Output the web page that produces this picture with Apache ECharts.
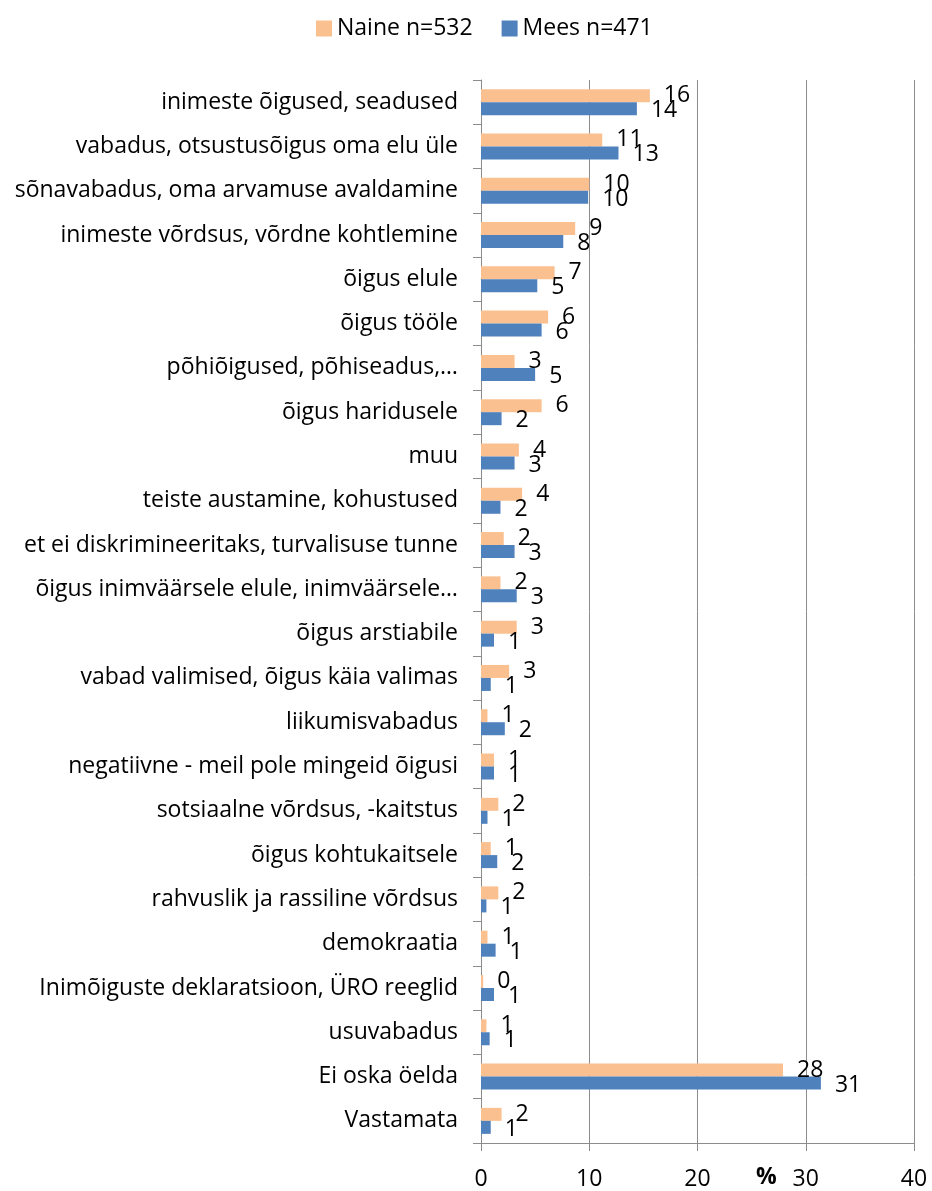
<!DOCTYPE html>
<html>
<head>
<meta charset="utf-8">
<script src="https://cdn.jsdelivr.net/npm/echarts@6/dist/echarts.min.js"></script>
<style>
  html, body { margin: 0; padding: 0; background: #fff; }
  #chart { width: 932px; height: 1191px; }
</style>
</head>
<body>
<div id="chart"></div>
<script>
// categories, top to bottom
const categories = [
  'inimeste õigused, seadused',
  'vabadus, otsustusõigus oma elu üle',
  'sõnavabadus, oma arvamuse avaldamine',
  'inimeste võrdsus, võrdne kohtlemine',
  'õigus elule',
  'õigus tööle',
  'põhiõigused, põhiseadus,…',
  'õigus haridusele',
  'muu',
  'teiste austamine, kohustused',
  'et ei diskrimineeritaks, turvalisuse tunne',
  'õigus inimväärsele elule, inimväärsele…',
  'õigus arstiabile',
  'vabad valimised, õigus käia valimas',
  'liikumisvabadus',
  'negatiivne - meil pole mingeid õigusi',
  'sotsiaalne võrdsus, -kaitstus',
  'õigus kohtukaitsele',
  'rahvuslik ja rassiline võrdsus',
  'demokraatia',
  'Inimõiguste deklaratsioon, ÜRO reeglid',
  'usuvabadus',
  'Ei oska öelda',
  'Vastamata'
];

// Naine n=532, %
const naine = [15.6, 11.2, 10.0, 8.7, 6.8, 6.2, 3.1, 5.6, 3.5, 3.8, 2.1, 1.8,
  3.3, 2.6, 0.6, 1.2, 1.6, 0.9, 1.6, 0.6, 0.2, 0.5, 27.9, 1.9];

// Mees n=471, %
const mees = [14.4, 12.7, 9.9, 7.6, 5.2, 5.6, 5.0, 1.9, 3.1, 1.8, 3.1, 3.3,
  1.2, 0.9, 2.2, 1.2, 0.6, 1.5, 0.5, 1.35, 1.2, 0.8, 31.4, 0.9];

const xTicks = [0, 10, 20, 30, 40];

const FONT = '"Open Sans"';
const FS = 23;
const GRAY = '#8c8c8c';

const myChart = echarts.init(document.getElementById('chart'));

function labelOpt(dy) {
  return {
    show: true,
    position: 'right',
    distance: 14,
    offset: [0, dy],
    color: '#000',
    fontFamily: FONT,
    fontSize: FS,
    formatter: function(p) {
      return Math.round(p.value);
    }
  };
}

myChart.setOption({
  animation: false,
  backgroundColor: '#fff',
  textStyle: { fontFamily: FONT },
  legend: {
    data: ['Naine n=532', 'Mees n=471'],
    left: 311,
    top: 12,
    icon: 'rect',
    itemWidth: 16,
    itemHeight: 16,
    itemGap: 29,
    textStyle: { color: '#000', fontSize: FS, fontFamily: FONT }
  },
  grid: {
    left: 481,
    right: 18,
    top: 80,
    bottom: 46,
    containLabel: false
  },
  xAxis: {
    type: 'value',
    min: xTicks[0],
    max: xTicks[xTicks.length - 1],
    interval: 10,
    axisLine: { show: true, lineStyle: { color: GRAY, width: 1 } },
    axisTick: { show: true, length: 8, lineStyle: { color: GRAY } },
    splitLine: { show: true, lineStyle: { color: GRAY, width: 1 } },
    axisLabel: { color: '#000', fontSize: FS, fontFamily: FONT, margin: 25 }
  },
  yAxis: {
    type: 'category',
    data: categories,
    inverse: true,
    axisLine: { show: true, lineStyle: { color: GRAY, width: 1 } },
    axisTick: { show: true, length: 8, lineStyle: { color: GRAY } },
    axisLabel: { color: '#000', fontSize: FS, fontFamily: FONT, margin: 23 }
  },
  graphic: [
    {
      type: 'text',
      left: 756,
      top: 1166,
      style: { text: '%', fontSize: FS, fontWeight: 'bold', fontFamily: FONT, fill: '#000' }
    }
  ],
  series: [
    {
      name: 'Naine n=532',
      type: 'bar',
      data: naine,
      barWidth: 13,
      barGap: '0%',
      itemStyle: { color: '#FAC090' },
      label: labelOpt(0)
    },
    {
      name: 'Mees n=471',
      type: 'bar',
      data: mees,
      barWidth: 13,
      barGap: '0%',
      itemStyle: { color: '#4F81BD' },
      label: labelOpt(2)
    }
  ]
});
</script>
</body>
</html>
